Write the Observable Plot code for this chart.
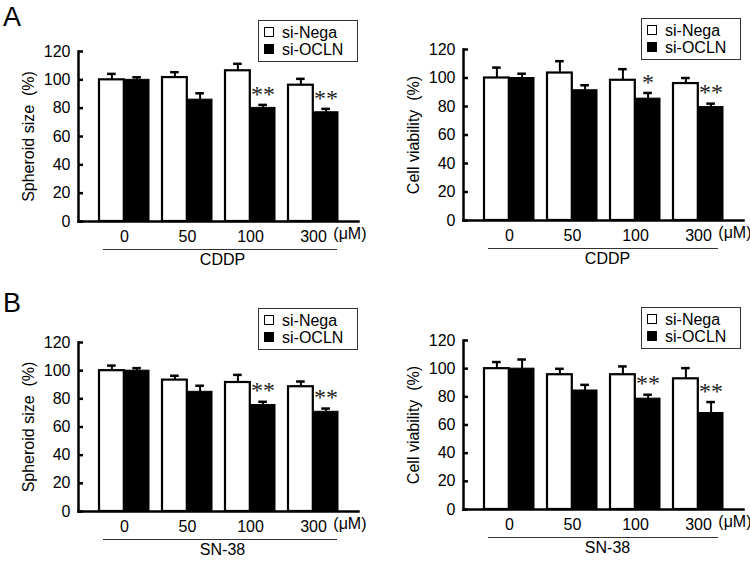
<!DOCTYPE html>
<html>
<head>
<meta charset="utf-8">
<script src="https://cdn.jsdelivr.net/npm/d3@7"></script>
<script src="https://cdn.jsdelivr.net/npm/@observablehq/plot@0.6"></script>
<style>
  html, body { margin: 0; padding: 0; background: #fff; }
  #root { position: relative; width: 750px; height: 562px; overflow: hidden; background: #fff;
          font-family: "Liberation Sans", Arial, sans-serif; color: #000; }
  .panel { position: absolute; width: 375px; height: 272px; }
  .panel svg { position: absolute; left: 0; top: 0; overflow: visible; }
  .tag { position: absolute; font-size: 27px; line-height: 27px; }
  .legend { position: absolute; border: 1.5px solid #333; box-sizing: border-box; font-size: 16px; }
  .legend .row { position: absolute; left: 0; height: 18px; line-height: 18px; white-space: nowrap; }
  .legend .sw { position: absolute; left: 5px; top: 3px; width: 10px; height: 10px; box-sizing: border-box; border: 1.5px solid #000; }
  .legend .lbl { position: absolute; left: 23px; top: 0; }
</style>
</head>
<body>
<div id="root"></div>
<script>
// ---- data ----
const doses = ["0", "50", "100", "300"];
const seriesNames = ["si-Nega", "si-OCLN"];
const yTicks = [0, 20, 40, 60, 80, 100, 120];

const spheroidCDDP_nega = [100, 101.6, 106.4, 96.2];
const spheroidCDDP_negaErr = [4.2, 3.8, 4.9, 4.5];
const spheroidCDDP_ocln = [100, 86, 80.2, 77.1];
const spheroidCDDP_oclnErr = [1.8, 4.5, 2.1, 2.4];
const spheroidCDDP_sig = ["", "", "**", "**"];

const viabilityCDDP_nega = [100, 103.5, 98.4, 96.1];
const viabilityCDDP_negaErr = [7.3, 8.3, 7.8, 3.9];
const viabilityCDDP_ocln = [100, 91.4, 85.5, 79.6];
const viabilityCDDP_oclnErr = [3.0, 3.5, 4.0, 2.4];
const viabilityCDDP_sig = ["", "", "*", "**"];

const spheroidSN38_nega = [100, 93.3, 91.6, 88.6];
const spheroidSN38_negaErr = [3.6, 3.1, 5.4, 3.7];
const spheroidSN38_ocln = [100, 85, 75.6, 70.8];
const spheroidSN38_oclnErr = [1.8, 4.3, 2.3, 2.3];
const spheroidSN38_sig = ["", "", "**", "**"];

const viabilitySN38_nega = [100, 95.7, 95.7, 92.8];
const viabilitySN38_negaErr = [4.7, 4.2, 5.9, 7.6];
const viabilitySN38_ocln = [100, 84.5, 78.7, 68.5];
const viabilitySN38_oclnErr = [6.5, 4.0, 2.8, 7.8];
const viabilitySN38_sig = ["", "", "**", "**"];

// ---- layout ----
const root = document.getElementById("root");
const W = 375, H = 272, FRAME_W = 280;

function panel(cfg) {
  const rows = doses.map((d, i) => ({
    dose: d,
    nega: cfg.nega[i], negaErr: cfg.negaErr[i],
    ocln: cfg.ocln[i], oclnErr: cfg.oclnErr[i],
    sig: cfg.sig[i]
  }));
  const ml = cfg.ml, mr = W - ml - FRAME_W;
  const r0 = ml + 14.5, step = 63;
  const bw = step * 0.8;
  const half = bw / 2;
  const capHalf = 4.5;

  const svg = Plot.plot({
    width: W, height: H,
    marginLeft: ml, marginRight: mr, marginTop: cfg.mt, marginBottom: cfg.mb,
    style: { fontFamily: '"Liberation Sans", Arial, sans-serif', fontSize: "16px", background: "transparent", color: "#000" },
    x: { domain: doses, range: [r0, r0 + 4 * step], paddingInner: 0.2, paddingOuter: 0.1 },
    y: { domain: [0, 120] },
    marks: [
      // bars
      Plot.barY(rows, { x: "dose", y: "nega", fill: "white", stroke: "black", strokeWidth: 2.2, insetRight: half }),
      Plot.barY(rows, { x: "dose", y: "ocln", fill: "black", stroke: "black", strokeWidth: 1, insetLeft: half }),
      // error bars (upper)
      Plot.ruleX(rows, { x: "dose", y1: "nega", y2: d => d.nega + d.negaErr, dx: -half / 2, strokeWidth: 2 }),
      Plot.tickY(rows, { x: "dose", y: d => d.nega + d.negaErr, dx: -half / 2, insetLeft: half - capHalf, insetRight: half - capHalf, strokeWidth: 2.5 }),
      Plot.ruleX(rows, { x: "dose", y1: "ocln", y2: d => d.ocln + d.oclnErr, dx: half / 2, strokeWidth: 2 }),
      Plot.tickY(rows, { x: "dose", y: d => d.ocln + d.oclnErr, dx: half / 2, insetLeft: half - capHalf, insetRight: half - capHalf, strokeWidth: 2.5 }),
      // significance
      Plot.text(rows, { x: "dose", y: d => d.ocln + d.oclnErr, text: "sig", dx: half / 2, dy: -11, fontSize: 24, fill: "#222", fontFamily: '"Liberation Serif", serif', lineAnchor: "middle" }),
      // axes
      Plot.frame({ anchor: "left", strokeWidth: 2.5 }),
      Plot.frame({ anchor: "bottom", strokeWidth: 2.5 }),
      Plot.tickY(yTicks, { y: d => d, insetRight: FRAME_W - 5, strokeWidth: 2.5 }),
      Plot.axisY({ ticks: yTicks, tickSize: 0, tickPadding: 8, fontSize: 16,
                   label: cfg.ylabel, labelAnchor: "center", labelOffset: cfg.labOff, labelArrow: "none" }),
      Plot.axisX({ tickSize: 0, tickPadding: 9, label: null, fontSize: 16 }),
      Plot.text(["(\u03bcM)"], { frameAnchor: "bottom-right", dx: 8, dy: 17, fontSize: 16 }),
      Plot.ruleY([0], { dy: 28, insetLeft: cfg.lineL, insetRight: cfg.lineR, strokeWidth: 1.2, stroke: "#333" }),
      Plot.text([cfg.drug], { frameAnchor: "bottom", dx: 4, dy: 43, fontSize: 16 })
    ]
  });

  const div = document.createElement("div");
  div.className = "panel";
  div.style.left = cfg.left + "px";
  div.style.top = cfg.top + "px";
  div.appendChild(svg);

  // legend
  const lg = document.createElement("div");
  lg.className = "legend";
  lg.style.left = cfg.lgX + "px";
  lg.style.top = cfg.lgY + "px";
  lg.style.width = "100px";
  lg.style.height = "42px";
  seriesNames.forEach((name, i) => {
    const row = document.createElement("div");
    row.className = "row";
    row.style.top = (3 + i * 17) + "px";
    const sw = document.createElement("div");
    sw.className = "sw";
    sw.style.background = i === 0 ? "#fff" : "#000";
    const lb = document.createElement("span");
    lb.className = "lbl";
    lb.textContent = name;
    row.appendChild(sw);
    row.appendChild(lb);
    lg.appendChild(row);
  });
  div.appendChild(lg);
  root.appendChild(div);
}

panel({ left: 0, top: 0, ml: 78, mt: 51, mb: 51, lineL: 25, lineR: 21, labOff: 56, lgX: 258, lgY: 20,
  drug: "CDDP", ylabel: "Spheroid size\u00a0\u00a0(%)",
  nega: spheroidCDDP_nega, negaErr: spheroidCDDP_negaErr, ocln: spheroidCDDP_ocln, oclnErr: spheroidCDDP_oclnErr, sig: spheroidCDDP_sig });
panel({ left: 375, top: 0, ml: 88, mt: 49, mb: 52, lineL: 25, lineR: 25, labOff: 56, lgX: 266, lgY: 18,
  drug: "CDDP", ylabel: "Cell viability\u00a0\u00a0(%)",
  nega: viabilityCDDP_nega, negaErr: viabilityCDDP_negaErr, ocln: viabilityCDDP_ocln, oclnErr: viabilityCDDP_oclnErr, sig: viabilityCDDP_sig });
panel({ left: 0, top: 290, ml: 78, mt: 52, mb: 51, lineL: 25, lineR: 21, labOff: 56, lgX: 258, lgY: 18,
  drug: "SN-38", ylabel: "Spheroid size\u00a0\u00a0(%)",
  nega: spheroidSN38_nega, negaErr: spheroidSN38_negaErr, ocln: spheroidSN38_ocln, oclnErr: spheroidSN38_oclnErr, sig: spheroidSN38_sig });
panel({ left: 375, top: 290, ml: 88, mt: 50, mb: 53, lineL: 25, lineR: 25, labOff: 56, lgX: 266, lgY: 17,
  drug: "SN-38", ylabel: "Cell viability\u00a0\u00a0(%)",
  nega: viabilitySN38_nega, negaErr: viabilitySN38_negaErr, ocln: viabilitySN38_ocln, oclnErr: viabilitySN38_oclnErr, sig: viabilitySN38_sig });

// panel tags
[["A", 3, 4], ["B", 3, 290]].forEach(([t, x, y]) => {
  const d = document.createElement("div");
  d.className = "tag";
  d.style.left = x + "px";
  d.style.top = y + "px";
  d.textContent = t;
  root.appendChild(d);
});
</script>
</body>
</html>
